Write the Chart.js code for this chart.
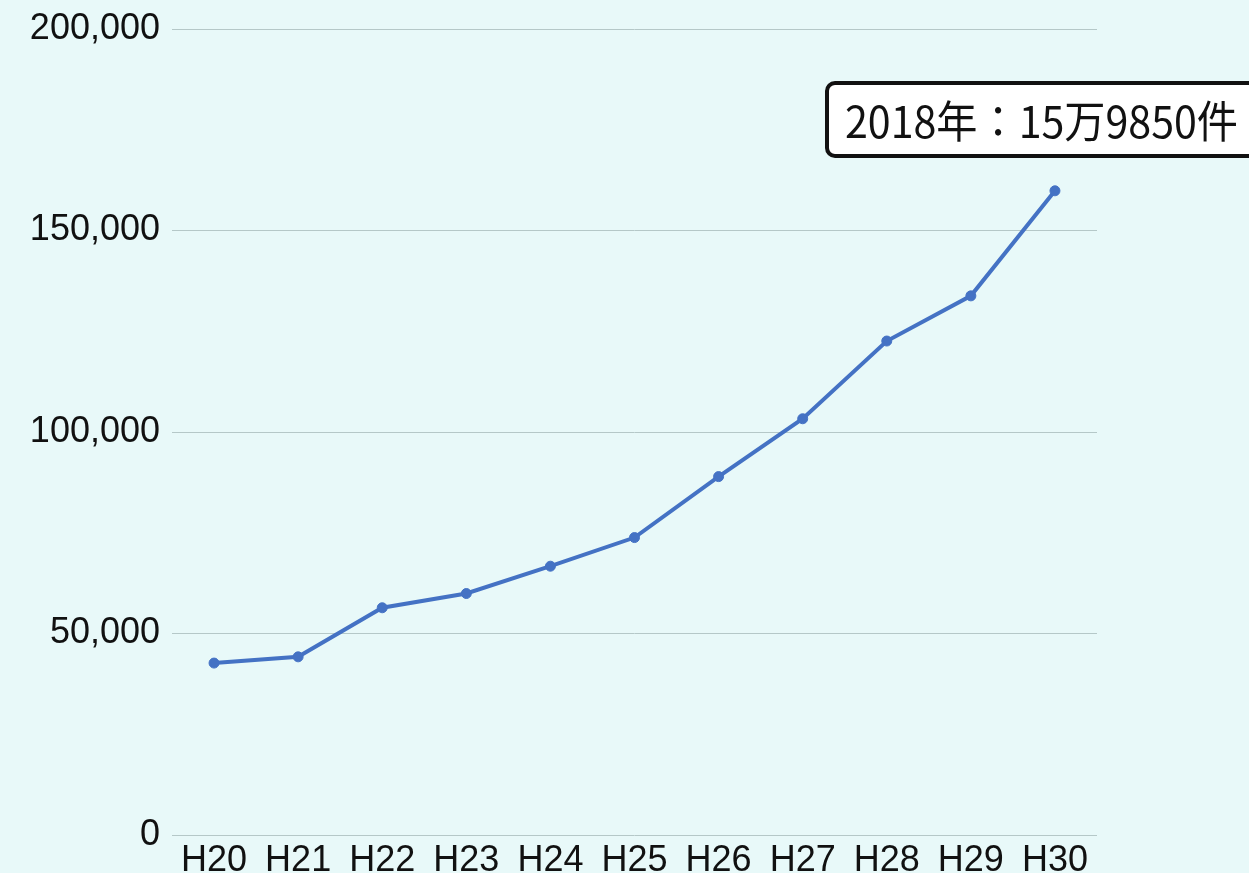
<!DOCTYPE html>
<html>
<head>
<meta charset="utf-8">
<script src="https://cdn.jsdelivr.net/npm/chart.js@4"></script>
<style>
  html, body { margin: 0; padding: 0; background: #e8f9f9; }
  #wrap { width: 1249px; height: 873px; }
</style>
</head>
<body>
<div id="wrap"><canvas id="abuseChart"></canvas></div>
<script>
// 年度ラベルと件数
const years  = ["H20", "H21", "H22", "H23", "H24", "H25", "H26", "H27", "H28", "H29", "H30"];
const counts = [42664, 44211, 56384, 59919, 66701, 73802, 88931, 103286, 122575, 133778, 159850];
const yTicks = [0, 50000, 100000, 150000, 200000];
const calloutText = "2018年：15万9850件";

const lineColor = "#4472c4";

//-----------------------------------------------------------------------------
// callout box drawn over the top right corner
//-----------------------------------------------------------------------------
const calloutPlugin = {
    id: "callout",
    afterDraw(chart) {
        const ctx = chart.ctx;
        const area = chart.chartArea;
        const x = area.right - 270, y = area.top + 54;
        ctx.save();
        ctx.beginPath();
        ctx.roundRect(x, y, 460, 73, 8);
        ctx.fillStyle = "#ffffff";
        ctx.fill();
        ctx.lineWidth = 4;
        ctx.strokeStyle = "#111111";
        ctx.stroke();
        ctx.fillStyle = "#111111";
        ctx.font = "44px 'Noto Sans CJK JP'";
        ctx.textBaseline = "middle";
        ctx.fillText(calloutText, x + 18, y + 38, 393);
        ctx.restore();
    }
};

new Chart(document.getElementById("abuseChart"), {
    type: "line",
    data: {
        labels: years,
        datasets: [{
            data: counts,
            borderColor: lineColor,
            backgroundColor: lineColor,
            borderWidth: 4,
            pointRadius: 5,
            pointHoverRadius: 5,
            pointBorderWidth: 1,
            tension: 0
        }]
    },
    options: {
        responsive: true,
        maintainAspectRatio: false,
        animation: false,
        plugins: {
            legend: { display: false },
            tooltip: { enabled: false }
        },
        layout: {
            padding: { top: 29, right: 152, bottom: 0, left: 0 }
        },
        scales: {
            x: {
                offset: true,
                grid: { display: false },
                border: { display: false },
                ticks: {
                    color: "#111111",
                    padding: -4,
                    maxRotation: 0,
                    font: { family: "'Liberation Sans', Arial", size: 36 }
                },
                afterFit(scale) { scale.height = 38; }
            },
            y: {
                min: 0,
                max: 200000,
                afterBuildTicks(scale) { scale.ticks = yTicks.map(v => ({ value: v })); },
                grid: { color: "#b5c8c8", lineWidth: 1, drawTicks: false },
                border: { display: false },
                ticks: {
                    color: "#111111",
                    padding: 12,
                    font: { family: "'Liberation Sans', Arial", size: 36, lineHeight: 0.8 },
                    callback: v => v.toLocaleString("en-US")
                },
                afterFit(scale) { scale.width = 172; }
            }
        }
    },
    plugins: [calloutPlugin]
});
</script>
</body>
</html>
